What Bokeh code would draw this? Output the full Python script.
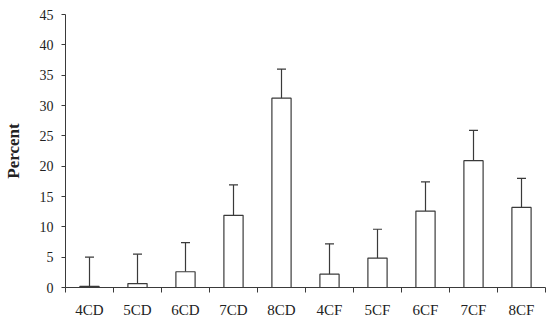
from bokeh.plotting import figure
from bokeh.models import Range1d, FixedTicker, Whisker, TeeHead, ColumnDataSource
from bokeh.embed import file_html
from bokeh.resources import INLINE

categories = ["4CD", "5CD", "6CD", "7CD", "8CD", "4CF", "5CF", "6CF", "7CF", "8CF"]
values = [0.2, 0.65, 2.6, 11.9, 31.2, 2.2, 4.85, 12.6, 20.9, 13.2]
errors = [4.8, 4.85, 4.8, 5.0, 4.8, 5.0, 4.75, 4.8, 5.0, 4.8]
y_ticks = [0, 5, 10, 15, 20, 25, 30, 35, 40, 45]

xs = [i + 0.5 for i in range(len(categories))]
src = ColumnDataSource(dict(x=xs, top=values,
                            upper=[v + e for v, e in zip(values, errors)]))

p = figure(width=550, height=320, output_backend="svg", toolbar_location=None,
           x_range=Range1d(0, len(categories)), y_range=Range1d(0, 45),
           min_border_left=62, min_border_right=5, min_border_top=14, min_border_bottom=31)
p.outline_line_color = None
p.grid.grid_line_color = None
p.background_fill_color = "white"

line_col = "#3a3a3a"
p.vbar(x="x", top="top", bottom=0, width=0.4, source=src,
       fill_color="white", line_color=line_col, line_width=1.2)
w = Whisker(base="x", lower="top", upper="upper", source=src, dimension="height",
            line_color=line_col, line_width=1.2,
            upper_head=TeeHead(size=9, line_color=line_col, line_width=1.2),
            lower_head=None)
p.add_layout(w)

font = "Liberation Serif"
xa = p.xaxis[0]
xa.ticker = FixedTicker(ticks=xs, minor_ticks=list(range(len(categories) + 1)))
xa.major_label_overrides = {x: c for x, c in zip(xs, categories)}
xa.major_tick_out = 0
xa.major_tick_in = 0
xa.minor_tick_out = 5
xa.minor_tick_in = 0
xa.minor_tick_line_color = line_col
xa.axis_line_color = line_col
xa.major_label_standoff = 9
xa.major_label_text_font = font
xa.major_label_text_font_size = "15px"
xa.major_label_text_color = "#222222"

ya = p.yaxis[0]
ya.ticker = FixedTicker(ticks=y_ticks)
ya.major_tick_out = 4
ya.major_tick_in = 0
ya.minor_tick_line_color = None
ya.major_tick_line_color = line_col
ya.axis_line_color = line_col
ya.major_label_standoff = 8
ya.major_label_text_font = font
ya.major_label_text_font_size = "14px"
ya.major_label_text_color = "#222222"
ya.axis_label = "Percent"
ya.axis_label_text_font = font
ya.axis_label_text_font_style = "bold"
ya.axis_label_text_font_size = "17px"
ya.axis_label_text_color = "#222222"
ya.axis_label_standoff = 14

open("out.html", "w").write(file_html(p, INLINE))
